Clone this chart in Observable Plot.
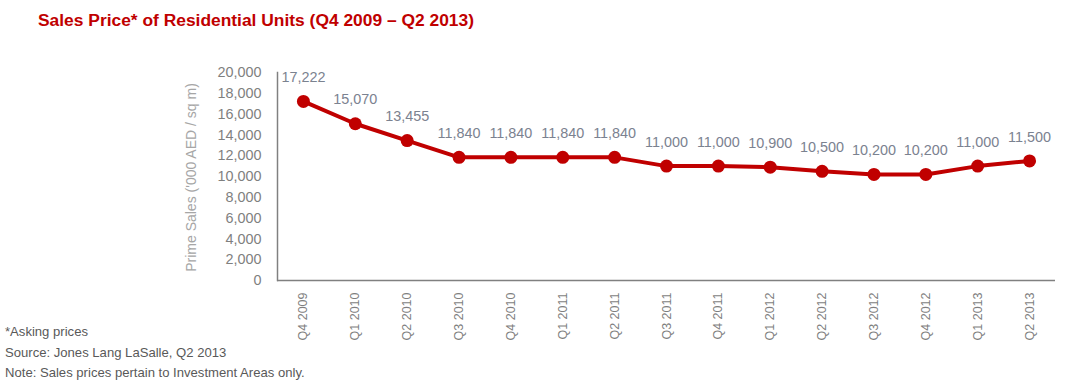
<!DOCTYPE html>
<html>
<head>
<meta charset="utf-8">
<script src="https://cdn.jsdelivr.net/npm/d3@7"></script>
<script src="https://cdn.jsdelivr.net/npm/@observablehq/plot@0.6"></script>
<style>
  html, body { margin: 0; padding: 0; background: #fff; }
  #wrap { position: relative; width: 1068px; height: 380px; overflow: hidden; font-family: "Liberation Sans", Arial, sans-serif; }
  #title { position: absolute; left: 38px; top: 10px; font-size: 17.4px; font-weight: bold; color: #c00000; white-space: nowrap; }
  #notes { position: absolute; left: 5px; top: 322px; font-size: 13.1px; line-height: 20.5px; color: #595959; white-space: nowrap; }
  #chart { position: absolute; left: 0; top: 0; }
</style>
</head>
<body>
<div id="wrap">
  <div id="chart"></div>
  <div id="title">Sales Price* of Residential Units (Q4 2009 – Q2 2013)</div>
  <div id="notes">*Asking prices<br>Source: Jones Lang LaSalle, Q2 2013<br>Note: Sales prices pertain to Investment Areas only.</div>
</div>
<script>
const quarters = ["Q4 2009","Q1 2010","Q2 2010","Q3 2010","Q4 2010","Q1 2011","Q2 2011","Q3 2011","Q4 2011","Q1 2012","Q2 2012","Q3 2012","Q4 2012","Q1 2013","Q2 2013"];
const prices = [17222,15070,13455,11840,11840,11840,11840,11000,11000,10900,10500,10200,10200,11000,11500];
const yTicks = [0,2000,4000,6000,8000,10000,12000,14000,16000,18000,20000];
const yLabel = "Prime Sales ('000 AED / sq m)";

const data = quarters.map((q, i) => ({q, v: prices[i]}));
const fmt = d3.format(",");
const font = '"Liberation Sans", Arial, sans-serif';

const chart = Plot.plot({
  width: 1068,
  height: 380,
  marginTop: 72,
  marginBottom: 100,
  marginLeft: 277,
  marginRight: 13,
  style: {fontFamily: font, background: "transparent"},
  x: {type: "point", domain: quarters, padding: 0.5, round: false},
  y: {domain: [0, 20000]},
  marks: [
    Plot.axisY({ticks: yTicks, tickFormat: fmt, tickSize: 0, tickPadding: 16, fontSize: 14.4, fill: "#7f7f7f", label: null}),
    Plot.text([yLabel], {frameAnchor: "left", rotate: -90, textAnchor: "middle", dx: -86, dy: 1, fontSize: 14, fill: "#a6a6a6"}),
    Plot.axisX({tickSize: 0, tickRotate: -90, tickPadding: 12, fontSize: 12.5, fill: "#7f7f7f", label: null, textAnchor: "end"}),
    Plot.frame({anchor: "left", stroke: "#808080", strokeWidth: 1.5}),
    Plot.ruleY([0], {stroke: "#808080", strokeWidth: 1.5}),
    Plot.line(data, {x: "q", y: "v", stroke: "#c00000", strokeWidth: 4}),
    Plot.dot(data, {x: "q", y: "v", r: 6.5, fill: "#c00000", stroke: "none"}),
    Plot.text(data, {x: "q", y: "v", text: d => fmt(d.v), dy: -24, fontSize: 14.4, fill: "#7b8290"})
  ]
});
document.getElementById("chart").appendChild(chart);
</script>
</body>
</html>
